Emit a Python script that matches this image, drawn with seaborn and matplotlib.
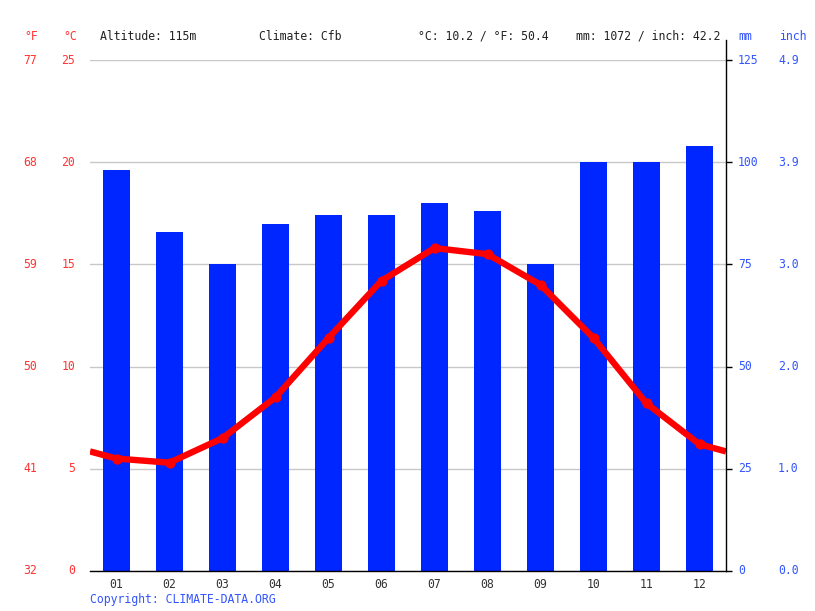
import matplotlib
matplotlib.use("Agg")
import matplotlib.pyplot as plt
import numpy as np
import pandas as pd
import seaborn as sns

# ── data ─────────────────────────────────────────────────────────────────────
months      = ["01", "02", "03", "04", "05", "06", "07", "08", "09", "10", "11", "12"]
precip_mm   = [98, 83, 75, 85, 87, 87, 90, 88, 75, 100, 100, 104]
temp_c      = [5.5, 5.3, 6.5, 8.5, 11.4, 14.2, 15.8, 15.5, 14.0, 11.4, 8.2, 6.2]

c_ticks     = [0, 5, 10, 15, 20, 25]
f_labels    = ["32", "41", "50", "59", "68", "77"]
mm_ticks    = [0, 25, 50, 75, 100, 125]
inch_labels = ["0.0", "1.0", "2.0", "3.0", "3.9", "4.9"]

header = [
    ("Altitude: 115m", 100),
    ("Climate: Cfb", 259),
    ("°C: 10.2 / °F: 50.4", 418),
    ("mm: 1072 / inch: 42.2", 576),
]

RED   = "#ff0000"
RED_T = "#ff3333"
BLUE  = "#0026ff"
BLUE_T = "#3355ff"
FONT  = "DejaVu Sans Mono"
FS    = 8.3

sns.set_style("white")
plt.rcParams["font.family"] = [FONT, "DejaVu Sans"]

W, H = 815, 611
fig = plt.figure(figsize=(W / 100, H / 100), dpi=100)
L, R, B, T = 90, 726, 571, 60
ax = fig.add_axes([L / W, 1 - B / H, (R - L) / W, (B - T) / H])

# ── bars (precipitation) ─────────────────────────────────────────────────────
df_bar = pd.DataFrame({"month": months, "mm": precip_mm})
sns.barplot(data=df_bar, x="month", y="mm", color=BLUE, saturation=1,
            width=0.5, linewidth=0, ax=ax, zorder=2)
ax.set_ylim(0, 125)
ax.set_xlim(-0.5, 11.5)
ax.set_yticks(mm_ticks)
ax.yaxis.grid(True, color="#c8c8c8", linewidth=1)
ax.set_axisbelow(True)
ax.set_xlabel("")
ax.set_ylabel("")
ax.tick_params(axis="x", which="major", length=0, pad=5, labelsize=FS, labelcolor="#333333")
ax.set_xticks(np.arange(-0.5, 12, 1), minor=True)
ax.tick_params(axis="x", which="minor", length=5, width=1, color="black", direction="out")
for s in ["left", "top", "right"]:
    ax.spines[s].set_visible(False)
ax.spines["bottom"].set_color("black")
ax.spines["bottom"].set_linewidth(1)

# ── line (temperature) ───────────────────────────────────────────────────────
ax2 = ax.twinx()
# twinx turns the left ticks of ax back on
ax.tick_params(axis="y", which="both", left=False, right=False, labelleft=False)
edge = (temp_c[0] + temp_c[-1]) / 2
df_line = pd.DataFrame({"x": [-0.5] + list(range(12)) + [11.5],
                        "t": [edge] + temp_c + [edge]})
df_pts = pd.DataFrame({"x": list(range(12)), "t": temp_c})
sns.lineplot(data=df_line, x="x", y="t", color=RED, linewidth=4.6, ax=ax2,
             solid_joinstyle="round", solid_capstyle="butt")
sns.scatterplot(data=df_pts, x="x", y="t", color=RED, s=55, linewidth=0, ax=ax2, zorder=4)
ax2.set_ylim(0, 25)
ax2.set_xlim(-0.5, 11.5)
ax2.set_yticks(c_ticks)
ax2.set_xlabel("")
ax2.set_ylabel("")
ax2.tick_params(axis="y", left=False, labelleft=False, right=True, length=4, width=1,
                color="black", direction="out", labelright=False)
for s in ["left", "top", "bottom"]:
    ax2.spines[s].set_visible(False)
ax2.spines["right"].set_color("black")
ax2.spines["right"].set_linewidth(1)
ax2.spines["right"].set_bounds(0, 25 + (T - 40) / ((B - T) / 25))

# ── tick labels ──────────────────────────────────────────────────────────────
tr = ax2.get_yaxis_transform()
for c, f in zip(c_ticks, f_labels):
    ax2.text((75 - L) / (R - L), c, str(c), transform=tr, ha="right", va="center",
             color=RED_T, fontsize=FS, clip_on=False)
    ax2.text((37 - L) / (R - L), c, f, transform=tr, ha="right", va="center",
             color=RED_T, fontsize=FS, clip_on=False)
tr1 = ax.get_yaxis_transform()
for m, i in zip(mm_ticks, inch_labels):
    ax.text((738 - L) / (R - L), m, str(m), transform=tr1, ha="left", va="center",
            color=BLUE_T, fontsize=FS, clip_on=False)
    ax.text((778 - L) / (R - L), m, i, transform=tr1, ha="left", va="center",
            color=BLUE_T, fontsize=FS, clip_on=False)

# ── header / footer ──────────────────────────────────────────────────────────
hy = 1 - 36 / H
fig.text(31 / W, hy, "°F", ha="center", va="center", color=RED_T, fontsize=FS)
fig.text(70 / W, hy, "°C", ha="center", va="center", color=RED_T, fontsize=FS)
for txt, px in header:
    fig.text(px / W, hy, txt, ha="left", va="center", color="#222222", fontsize=FS)
fig.text(738 / W, hy, "mm", ha="left", va="center", color=BLUE_T, fontsize=FS)
fig.text(779 / W, hy, "inch", ha="left", va="center", color=BLUE_T, fontsize=FS)
fig.text(90 / W, 1 - 599 / H, "Copyright: CLIMATE-DATA.ORG", ha="left", va="center",
         color=BLUE_T, fontsize=FS)

fig.savefig("out.png", dpi=100)
